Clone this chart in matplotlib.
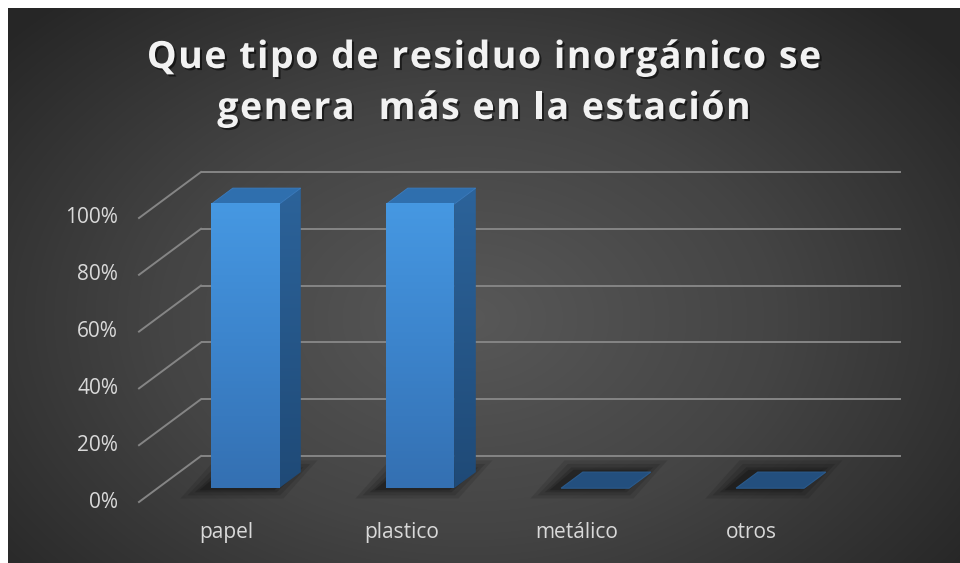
import numpy as np
import matplotlib
matplotlib.use("Agg")
import matplotlib.pyplot as plt
from matplotlib.patches import Polygon
from matplotlib.colors import LinearSegmentedColormap
from matplotlib.font_manager import FontProperties, findfont
from matplotlib.ft2font import FT2Font, LoadFlags
import matplotlib.patheffects as pe

# datos
categorias = ["papel", "plastico", "metálico", "otros"]
porcentajes = [100, 100, 0, 0]
ticks = [0, 20, 40, 60, 80, 100]
titulo = ["Que tipo de residuo inorgánico se", "genera  más en la estación"]

plt.rcParams["font.family"] = ["Open Sans", "DejaVu Sans"]

W, H, DPI = 960, 563, 100
fig = plt.figure(figsize=(W / DPI, H / DPI), dpi=DPI, facecolor="white")

# fondo oscuro con degradado radial
bg = fig.add_axes([8 / W, 0, (W - 8) / W, (H - 8) / H])
bg.set_axis_off()
yy, xx = np.mgrid[0:555, 0:952]
r = np.sqrt(((xx - 460) / 620.0) ** 2 + ((yy - 310) / 430.0) ** 2)
r = np.clip(r, 0, 1)
fondo = LinearSegmentedColormap.from_list("fondo", ["#585858", "#444444", "#262626"])
bg.imshow(r, cmap=fondo, vmin=0, vmax=1, aspect="auto", interpolation="bilinear")

# ejes en unidades de categoria (x) y porcentaje (y), con proyeccion oblicua
PX_X = 175.0     # pixeles por categoria
PX_Y = 2.84      # pixeles por punto porcentual
X0, Y0 = 139.0, 502.0
ax = fig.add_axes([0, 0, 1, 1])
ax.set_axis_off()
ax.patch.set_alpha(0)

DX = 62 / PX_X   # desplazamiento de profundidad
DY = 46 / PX_Y
n = len(categorias)
x_izq, x_der = -0.5, n - 0.5


def proy(x, y, d):
    return (x + d * DX, y + d * DY)


# rejilla: pared del fondo y pared lateral
gcol = "#858585"
for t in ticks:
    p0 = proy(x_izq, t, 1)
    p1 = proy(x_der, t, 1)
    ax.plot([p0[0], p1[0]], [p0[1], p1[1]], color=gcol, lw=1.4, zorder=1,
            solid_capstyle="butt")
    f0 = proy(x_izq, t, 0)
    ax.plot([f0[0], p0[0]], [f0[1], p0[1]], color=gcol, lw=1.4, zorder=1)
    ax.text(f0[0] - 0.12, t, f"{t}%", ha="right", va="center",
            fontsize=15, color="#d9d9d9")

D1, D2 = 0.30, 0.65
hw = 68 / PX_X / 2

frente_cmap = LinearSegmentedColormap.from_list("frente", ["#3470b2", "#3c84cc", "#4698e2"])
lado_cmap = LinearSegmentedColormap.from_list("lado", ["#1f4a77", "#2c639a"])

for i, (cat, v) in enumerate(zip(categorias, porcentajes)):
    xa, xb = i - hw, i + hw
    # sombra en el piso
    for k, a in zip([0.10, 0.07, 0.04, 0.02], [0.10, 0.12, 0.15, 0.2]):
        pts = [proy(xa - k - 0.04, -k * 20, D1 - k), proy(xb + k - 0.04, -k * 20, D1 - k),
               proy(xb + k - 0.04, k * 25, D2 + k), proy(xa - k - 0.04, k * 25, D2 + k)]
        ax.add_patch(Polygon(pts, closed=True, facecolor="black", edgecolor="none",
                             alpha=a, zorder=2))
    if v <= 0:
        pts = [proy(xa, 0, D1), proy(xb, 0, D1), proy(xb, 0, D2), proy(xa, 0, D2)]
        ax.add_patch(Polygon(pts, closed=True, facecolor="#234f7e",
                             edgecolor="#2a5a8c", lw=0.8, zorder=3))
    else:
        # cara lateral
        lado = [proy(xb, 0, D1), proy(xb, 0, D2), proy(xb, v, D2), proy(xb, v, D1)]
        poly = Polygon(lado, closed=True, facecolor="none", edgecolor="none", zorder=3)
        ax.add_patch(poly)
        xs = [p[0] for p in lado]
        ys = [p[1] for p in lado]
        im = ax.imshow(np.linspace(0, 1, 100).reshape(-1, 1), cmap=lado_cmap,
                       extent=[min(xs), max(xs), min(ys), max(ys)], origin="lower",
                       aspect="auto", zorder=3, interpolation="bilinear")
        im.set_clip_path(poly)
        # cara superior
        arriba = [proy(xa, v, D1), proy(xb, v, D1), proy(xb, v, D2), proy(xa, v, D2)]
        ax.add_patch(Polygon(arriba, closed=True, facecolor="#2f6fae",
                             edgecolor="#3a7cc0", lw=0.6, zorder=4))
        # cara frontal
        fa = proy(xa, 0, D1)
        fb = proy(xb, v, D1)
        ax.imshow(np.linspace(0, 1, 100).reshape(-1, 1), cmap=frente_cmap,
                  extent=[fa[0], fb[0], fa[1], fb[1]], origin="lower",
                  aspect="auto", zorder=5, interpolation="bilinear")
    # etiqueta de categoria
    ax.text(i, -10.9, cat, ha="center", va="center", fontsize=15, color="#d9d9d9")

ax.set_xlim(-X0 / PX_X - 0.5, (W - X0) / PX_X - 0.5)
ax.set_ylim((Y0 - H) / PX_Y, Y0 / PX_Y)

# titulo con espaciado entre letras, letra por letra
TSIZE = 27
TRACK = 1.5
fprop = FontProperties(family="Open Sans", weight="bold", size=TSIZE)
ft = FT2Font(findfont(fprop))
ft.set_size(TSIZE, DPI)
sombra = [pe.withSimplePatchShadow(offset=(1.5, -1.5), shadow_rgbFace="black", alpha=0.55)]
for linea, base in zip(titulo, [68, 119]):
    avances = [ft.load_char(ord(c), flags=LoadFlags.NO_HINTING).linearHoriAdvance / 65536
               for c in linea]
    ancho = sum(avances) + TRACK * (len(linea) - 1)
    x = 484 - ancho / 2
    for c, adv in zip(linea, avances):
        if c != " ":
            fig.text(x / W, 1 - base / H, c, ha="left", va="baseline",
                     fontproperties=fprop, color="#f2f2f2", path_effects=sombra)
        x += adv + TRACK

fig.savefig("out.png", dpi=DPI, facecolor="white")
